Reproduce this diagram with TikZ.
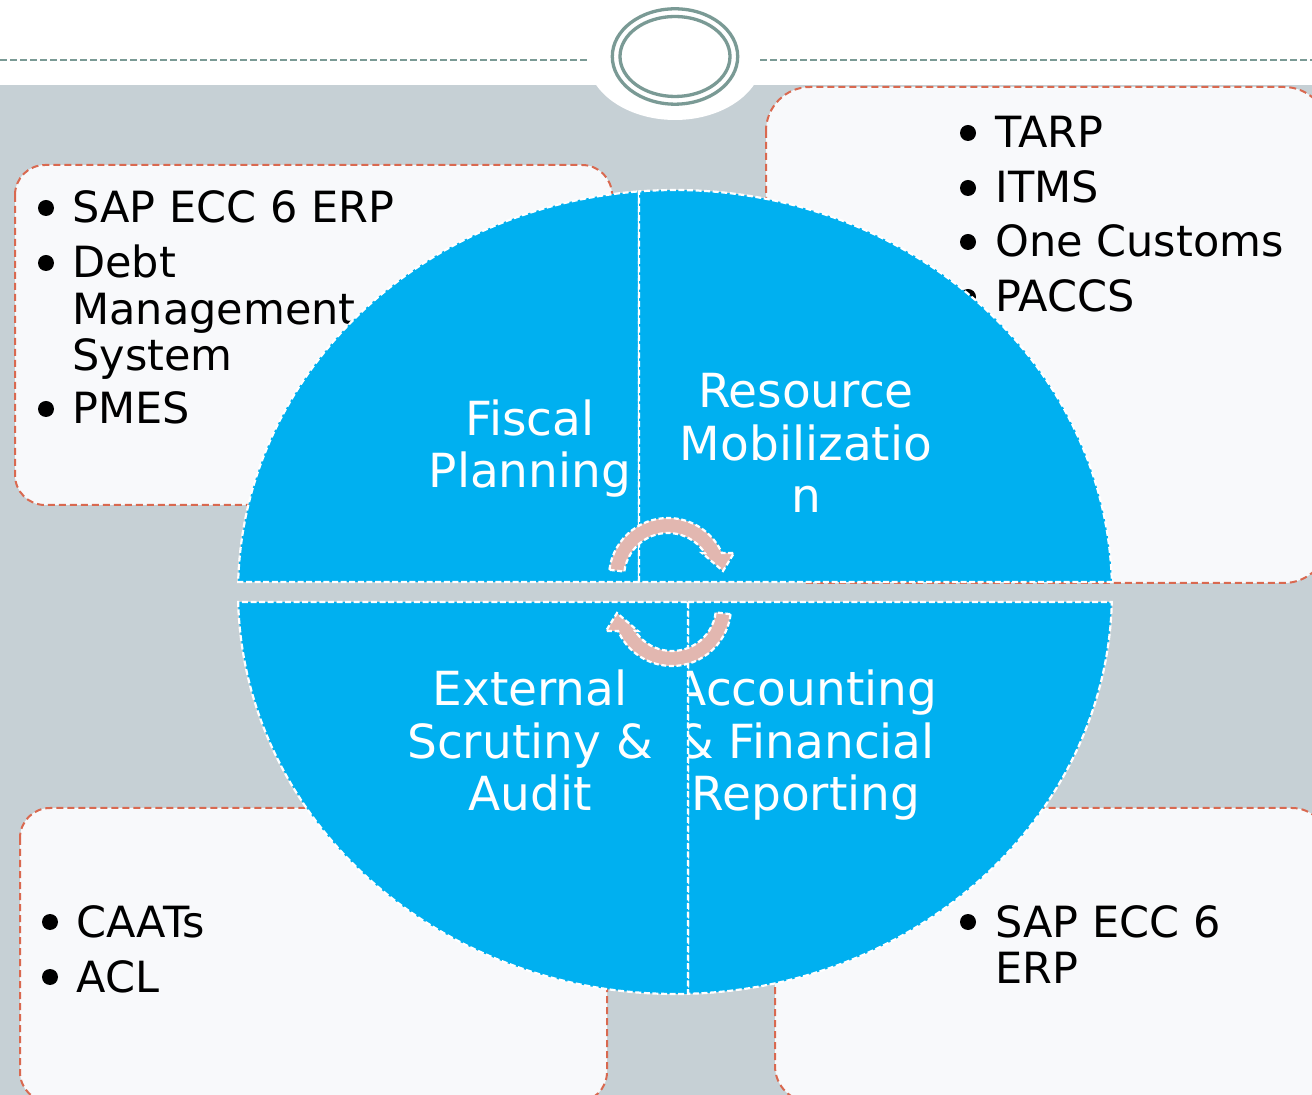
\documentclass[tikz,border=0pt]{standalone}
\usepackage{fontspec}
\setmainfont{DejaVu Sans}
\definecolor{pagegray}{RGB}{198,208,213}
\definecolor{boxfill}{RGB}{248,249,251}
\definecolor{boxline}{RGB}{217,105,80}
\definecolor{quadblue}{RGB}{0,176,240}
\definecolor{arrowpink}{RGB}{226,183,176}
\definecolor{ringcol}{RGB}{122,154,149}
\begin{document}
\begin{tikzpicture}[x=0.5pt,y=-0.5pt,
  listbox/.style={draw=boxline, fill=boxfill, line width=1pt, dash pattern=on 3.5pt off 2pt},
  quarter/.style={fill=quadblue, draw=white, line width=1.1pt, dash pattern=on 3pt off 1.3pt},
  cyclearrow/.style={fill=arrowpink, draw=white, line width=1.1pt, dash pattern=on 2.5pt off 1.3pt},
  ringline/.style={draw=ringcol, line width=1.65pt},
  itemtext/.style={anchor=base west, inner sep=0pt, font=\fontsize{21.5}{23.25}\selectfont, align=left},
  quadtext/.style={anchor=base, inner sep=0pt, text=white, font=\fontsize{23.5}{26.25}\selectfont, align=center},
  bulletdot/.style={fill=black}
]
\useasboundingbox (0,0) rectangle (1312,1095);
\clip (0,0) rectangle (1312,1095);

% page background and header band
\fill[white] (0,0) rectangle (1312,85);
\fill[pagegray] (0,85) rectangle (1312,1095);
\fill[white] (675,57) ellipse[x radius=88, y radius=63];
\draw[ringline] (675,56.5) ellipse[x radius=62.7, y radius=47.7];
\draw[ringline] (675,56.5) ellipse[x radius=55, y radius=40];
\draw[ringcol, line width=0.75pt, dash pattern=on 3.5pt off 1.5pt] (0,60) -- (590,60) (760,60) -- (1312,60);

% side boxes with bullet lists (multi-line nodes sit on their last baseline)
\draw[listbox, rounded corners=15pt] (15,165) rectangle (612,505);
\draw[listbox, rounded corners=22pt] (766,87) rectangle (1328,583);
\draw[listbox, rounded corners=15pt] (20,808) rectangle (607,1102);
\draw[listbox, rounded corners=18pt] (775,808) rectangle (1328,1102);

\fill[bulletdot] (46,208) circle[radius=8];
\fill[bulletdot] (46,263) circle[radius=8];
\fill[bulletdot] (46,409) circle[radius=8];
\node[itemtext] (sapa) at (72,223) {SAP ECC 6 ERP};
\node[itemtext] (debt) at (72,371) {Debt\\Management\\System};
\node[itemtext] (pmes) at (72,424) {PMES};

\fill[bulletdot] (968,133) circle[radius=8];
\fill[bulletdot] (968,188) circle[radius=8];
\fill[bulletdot] (968,242) circle[radius=8];
\fill[bulletdot] (968,297) circle[radius=8];
\node[itemtext] (tarp) at (995,148) {TARP};
\node[itemtext] (itms) at (995,203) {ITMS};
\node[itemtext] (onecus) at (995,257) {One Customs};
\node[itemtext] (paccs) at (995,312) {PACCS};

\fill[bulletdot] (50,922) circle[radius=8];
\fill[bulletdot] (50,977) circle[radius=8];
\node[itemtext] (caats) at (76,937) {CAATs};
\node[itemtext] (acl) at (76,992) {ACL};

\fill[bulletdot] (968,922) circle[radius=8];
\node[itemtext] (sapb) at (995,983.5) {SAP ECC 6\\ERP};

% the four quarters of the cycle
\path[quarter, shift={(675,592)}] (-36,-10) -- (181.425:437 and 402)
  arc[start angle=181.425, end angle=265.274, x radius=437, y radius=402] -- cycle;
\node[quadtext] (fiscal) at (530,488) {Fiscal\\Planning};

\path[quarter, shift={(675,592)}] (-36,-10) -- (265.274:437 and 402)
  arc[start angle=265.274, end angle=358.575, x radius=437, y radius=402] -- cycle;
\node[quadtext] (resmob) at (806,513) {Resource\\Mobilizatio\\n};

\path[quarter, shift={(675,592)}] (13,10) -- (1.425:437 and 402)
  arc[start angle=1.425, end angle=88.295, x radius=437, y radius=402] -- cycle;
\node[quadtext] (accfin) at (806,811) {Accounting\\\& Financial\\Reporting};

\path[quarter, shift={(675,592)}] (13,10) -- (88.295:437 and 402)
  arc[start angle=88.295, end angle=178.575, x radius=437, y radius=402] -- cycle;
\node[quadtext] (extaud) at (530,811) {External\\Scrutiny \&\\Audit};

% circular arrows in the middle
\path[cyclearrow, shift={(668,577)}] (-173:59)
  arc[start angle=-173, end angle=-24, radius=59] -- (66,-24) -- (55,-6) -- (34,-24)
  -- (-33:44) arc[start angle=-33, end angle=-173, radius=44] -- cycle;
\begin{scope}[rotate around={180:(670,592)}]
\path[cyclearrow, shift={(668,577)}] (-173:59)
  arc[start angle=-173, end angle=-24, radius=59] -- (66,-24) -- (55,-6) -- (34,-24)
  -- (-33:44) arc[start angle=-33, end angle=-173, radius=44] -- cycle;
\end{scope}
\end{tikzpicture}
\end{document}
